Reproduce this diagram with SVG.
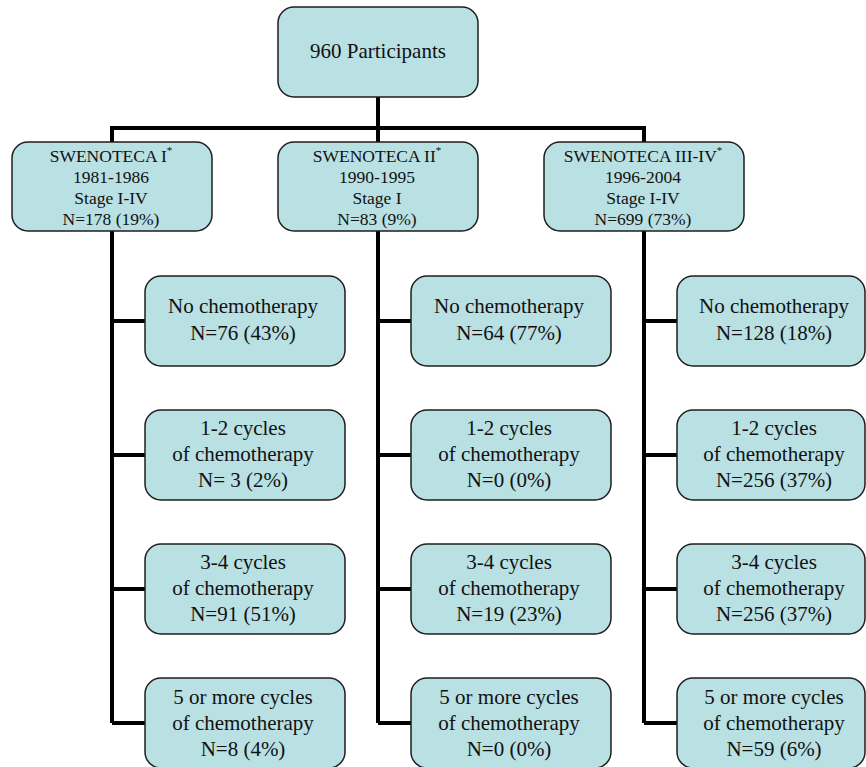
<svg xmlns="http://www.w3.org/2000/svg" width="866" height="767" viewBox="0 0 866 767" font-family="'Liberation Serif', Tinos, 'Times New Roman', Times, serif">
<style>
.box{fill:#b9e0e3;stroke:#1e1e1e;stroke-width:1.5}
text{font-family:'Liberation Serif',Tinos,'Times New Roman',Times,serif;fill:#111;text-anchor:middle}
.t0{font-size:21px}
.t1{font-size:17.5px}
.t2{font-size:21px}
.sup{font-size:11px}
.con{stroke:#000;stroke-width:4;fill:none}
</style>
<g id="connectors">
<path class="con" d="M378 97V142M112 142V128H644V142"/>
<path class="con" d="M112 231V723M112 321H145M112 455H145M112 589H145M112 723H145"/>
<path class="con" d="M378 231V723M378 321H411M378 455H411M378 589H411M378 723H411"/>
<path class="con" d="M644 231V723M644 321H677M644 455H677M644 589H677M644 723H677"/>
</g>
<g id="root"><rect class="box" x="278" y="7" width="200" height="90" rx="16"/><text class="t0" x="378" y="58">960 Participants</text></g>
<g id="swe1"><rect class="box" x="12" y="142" width="200" height="89" rx="16"/>
<text class="t1" x="111" y="162">SWENOTECA I<tspan class="sup" dy="-8">*</tspan></text>
<text class="t1" x="111" y="183">1981-1986</text><text class="t1" x="111" y="204">Stage I-IV</text><text class="t1" x="111" y="225">N=178 (19%)</text></g>
<g id="swe2"><rect class="box" x="278" y="142" width="200" height="89" rx="16"/>
<text class="t1" x="377" y="162">SWENOTECA II<tspan class="sup" dy="-8">*</tspan></text>
<text class="t1" x="377" y="183">1990-1995</text><text class="t1" x="377" y="204">Stage I</text><text class="t1" x="377" y="225">N=83 (9%)</text></g>
<g id="swe3"><rect class="box" x="544" y="142" width="200" height="89" rx="16"/>
<text class="t1" x="643" y="162">SWENOTECA III-IV<tspan class="sup" dy="-8">*</tspan></text>
<text class="t1" x="643" y="183">1996-2004</text><text class="t1" x="643" y="204">Stage I-IV</text><text class="t1" x="643" y="225">N=699 (73%)</text></g>

<g id="c1a"><rect class="box" x="145" y="276" width="200" height="90" rx="16"/><text class="t2" x="243" y="313">No chemotherapy</text><text class="t2" x="243" y="340">N=76 (43%)</text></g>
<g id="c1b"><rect class="box" x="145" y="410" width="200" height="90" rx="16"/><text class="t2" x="243" y="435">1-2 cycles</text><text class="t2" x="243" y="461">of chemotherapy</text><text class="t2" x="243" y="487">N= 3 (2%)</text></g>
<g id="c1c"><rect class="box" x="145" y="544" width="200" height="90" rx="16"/><text class="t2" x="243" y="569">3-4 cycles</text><text class="t2" x="243" y="595">of chemotherapy</text><text class="t2" x="243" y="621">N=91 (51%)</text></g>
<g id="c1d"><rect class="box" x="145" y="678" width="200" height="90" rx="16"/><text class="t2" x="243" y="704">5 or more cycles</text><text class="t2" x="243" y="730">of chemotherapy</text><text class="t2" x="243" y="756">N=8 (4%)</text></g>

<g id="c2a"><rect class="box" x="411" y="276" width="200" height="90" rx="16"/><text class="t2" x="509" y="313">No chemotherapy</text><text class="t2" x="509" y="340">N=64 (77%)</text></g>
<g id="c2b"><rect class="box" x="411" y="410" width="200" height="90" rx="16"/><text class="t2" x="509" y="435">1-2 cycles</text><text class="t2" x="509" y="461">of chemotherapy</text><text class="t2" x="509" y="487">N=0 (0%)</text></g>
<g id="c2c"><rect class="box" x="411" y="544" width="200" height="90" rx="16"/><text class="t2" x="509" y="569">3-4 cycles</text><text class="t2" x="509" y="595">of chemotherapy</text><text class="t2" x="509" y="621">N=19 (23%)</text></g>
<g id="c2d"><rect class="box" x="411" y="678" width="200" height="90" rx="16"/><text class="t2" x="509" y="704">5 or more cycles</text><text class="t2" x="509" y="730">of chemotherapy</text><text class="t2" x="509" y="756">N=0 (0%)</text></g>

<g id="c3a"><rect class="box" x="677" y="276" width="188" height="90" rx="16"/><text class="t2" x="774" y="313">No chemotherapy</text><text class="t2" x="774" y="340">N=128 (18%)</text></g>
<g id="c3b"><rect class="box" x="677" y="410" width="188" height="90" rx="16"/><text class="t2" x="774" y="435">1-2 cycles</text><text class="t2" x="774" y="461">of chemotherapy</text><text class="t2" x="774" y="487">N=256 (37%)</text></g>
<g id="c3c"><rect class="box" x="677" y="544" width="188" height="90" rx="16"/><text class="t2" x="774" y="569">3-4 cycles</text><text class="t2" x="774" y="595">of chemotherapy</text><text class="t2" x="774" y="621">N=256 (37%)</text></g>
<g id="c3d"><rect class="box" x="677" y="678" width="188" height="90" rx="16"/><text class="t2" x="774" y="704">5 or more cycles</text><text class="t2" x="774" y="730">of chemotherapy</text><text class="t2" x="774" y="756">N=59 (6%)</text></g>
</svg>
